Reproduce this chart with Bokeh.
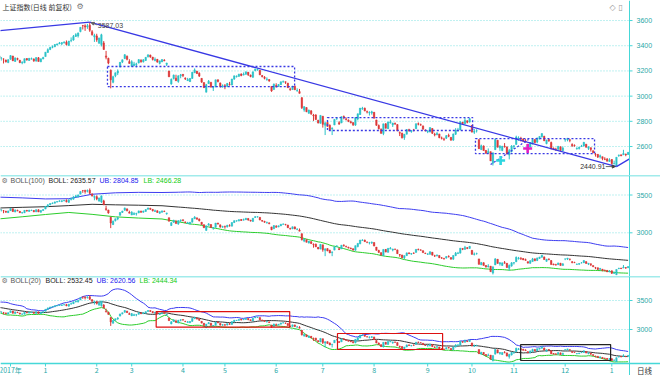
import numpy as np
import pandas as pd
from bokeh.plotting import figure
from bokeh.layouts import column
from bokeh.models import Range1d, Label, ColumnDataSource, Span, Arrow, NormalHead
from bokeh.core.properties import value
from bokeh.embed import file_html
from bokeh.resources import INLINE

# ---------------- data (Shanghai Composite, daily, Dec 2017 - Jan 2019) ----------------
first_idx = -21          # trading-day index of the first candle (Jan 2 2018 = 0)
# Nov 2017 closes: only used to warm up the BOLL(20)/BOLL(100) averages
nov17_closes = [3396, 3384, 3372, 3388, 3413, 3416, 3427, 3432, 3447, 3430, 3403,
                3399, 3382, 3392, 3411, 3430, 3352, 3353, 3322, 3333, 3337, 3317]

opens = [
    3315, 3310, 3300, 3295, 3286, 3266, 3293, 3318, 3275, 3298, 3284, 3265, 3264, 3298, 3283, 3294, 3295, 3278, 3304, 3272, 3295,
    3314, 3347, 3371, 3387, 3391, 3406, 3416, 3415, 3424, 3428, 3403, 3441, 3445, 3474, 3478, 3512, 3560, 3558, 3550, 3563, 3511, 3470,
    3478, 3419, 3409, 3422, 3319, 3300, 3206, 3110, 3161, 3183, 3231, 3270, 3298, 3316, 3274,
    3235, 3241, 3251, 3263, 3284, 3272, 3283, 3312, 3326, 3310, 3283, 3292, 3259, 3271, 3286, 3252, 3200, 3096, 3139, 3142, 3116, 3161,
    3173, 3144, 3123, 3115, 3140, 3185, 3199, 3182, 3141, 3108, 3031, 3099, 3109, 3065, 3072, 3130, 3105, 3075,
    3082, 3077, 3093, 3088, 3135, 3156, 3158, 3176, 3167, 3173, 3190, 3167, 3149, 3203, 3211, 3205, 3163, 3150, 3132, 3132, 3077, 3052,
    3084, 3076, 3091, 3113, 3114, 3103, 3057, 3052, 3078, 3041, 3036, 2987, 2890, 2909, 2864, 2883, 2850, 2850, 2808, 2785,
    2841, 2769, 2791, 2768, 2741, 2771, 2825, 2789, 2787, 2839, 2819, 2810, 2796, 2790, 2770, 2818, 2854, 2900, 2904, 2876, 2867, 2866,
    2872, 2811, 2767, 2736, 2703, 2780, 2742, 2788, 2771, 2784, 2774, 2712, 2705, 2671, 2698, 2734, 2719, 2732, 2741, 2781, 2773, 2762, 2731,
    2716, 2716, 2743, 2697, 2693, 2700, 2668, 2660, 2666, 2688, 2673, 2651, 2698, 2727, 2731, 2793, 2781, 2804, 2794,
    2768, 2713, 2724, 2655, 2575, 2604, 2568, 2550, 2559, 2468, 2575, 2650, 2588, 2568, 2604, 2597, 2532, 2560,
    2599, 2617, 2659, 2665, 2659, 2644, 2618, 2596, 2619, 2656, 2635, 2662, 2677, 2681, 2623, 2655, 2632, 2586, 2579, 2579, 2597, 2567,
    2654, 2652, 2653, 2617, 2608, 2581, 2585, 2601, 2604, 2619, 2586, 2591, 2567, 2539, 2538, 2518, 2519, 2501, 2500, 2481,
    2497, 2461, 2446, 2528, 2534, 2534, 2540, 2537,
]
highs = [
    3327, 3324, 3311, 3300, 3290, 3292, 3324, 3320, 3307, 3305, 3288, 3277, 3298, 3301, 3303, 3306, 3299, 3307, 3310, 3297, 3312,
    3349, 3379, 3392, 3402, 3412, 3417, 3430, 3427, 3435, 3442, 3438, 3466, 3485, 3499, 3505, 3547, 3565, 3570, 3573, 3587.03, 3524, 3495,
    3495, 3463, 3495, 3437, 3359, 3305, 3211, 3162, 3187, 3212, 3271, 3290, 3332, 3323, 3293,
    3285, 3272, 3265, 3292, 3293, 3293, 3309, 3333, 3329, 3311, 3307, 3295, 3280, 3293, 3293, 3264, 3200, 3140, 3171, 3170, 3164, 3176,
    3174, 3148, 3145, 3144, 3191, 3220, 3196, 3189, 3141, 3108, 3097, 3128, 3113, 3076, 3130, 3131, 3107, 3093,
    3096, 3104, 3113, 3137, 3162, 3164, 3177, 3180, 3188, 3194, 3191, 3171, 3193, 3219, 3219, 3206, 3168, 3159, 3149, 3134, 3079, 3100,
    3102, 3094, 3114, 3124, 3115, 3105, 3068, 3081, 3084, 3062, 3057, 2992, 2920, 2911, 2892, 2888, 2859, 2857, 2812, 2848,
    2841, 2796, 2793, 2776, 2752, 2816, 2832, 2801, 2838, 2846, 2831, 2815, 2805, 2791, 2830, 2860, 2905, 2915, 2909, 2885, 2880, 2884,
    2873, 2812, 2775, 2744, 2780, 2785, 2796, 2812, 2788, 2790, 2777, 2719, 2710, 2699, 2739, 2741, 2731, 2740, 2782, 2791, 2782, 2768, 2736,
    2730, 2751, 2745, 2709, 2715, 2700, 2679, 2670, 2691, 2702, 2673, 2702, 2746, 2748, 2798, 2795, 2827, 2807, 2826,
    2771, 2739, 2737, 2655, 2615, 2609, 2573, 2585, 2560, 2551, 2665, 2650, 2610, 2603, 2627, 2600, 2581, 2611,
    2610, 2686, 2681, 2677, 2666, 2659, 2621, 2636, 2668, 2656, 2670, 2681, 2704, 2685, 2653, 2660, 2639, 2592, 2590, 2603, 2602, 2600,
    2659, 2667, 2658, 2625, 2617, 2594, 2598, 2613, 2635, 2619, 2600, 2591, 2567, 2549, 2538, 2536, 2519, 2515, 2509, 2507,
    2500, 2488, 2515, 2535, 2535, 2574, 2543, 2555,
]
lows = [
    3303, 3298, 3282, 3259, 3267, 3262, 3289, 3278, 3273, 3284, 3262, 3253, 3262, 3282, 3280, 3290, 3272, 3274, 3275, 3270, 3293,
    3314, 3345, 3365, 3380, 3391, 3403, 3412, 3405, 3417, 3402, 3397, 3428, 3440, 3470, 3465, 3507, 3529, 3518, 3534, 3510, 3480, 3430,
    3431, 3417, 3394, 3368, 3292, 3253, 3062, 3102, 3150, 3167, 3229, 3262, 3294, 3284, 3259,
    3235, 3238, 3228, 3260, 3266, 3267, 3280, 3307, 3304, 3283, 3276, 3266, 3252, 3271, 3277, 3239, 3152, 3091, 3133, 3122, 3106, 3142,
    3151, 3128, 3122, 3114, 3139, 3185, 3175, 3152, 3107, 3065, 3031, 3099, 3071, 3041, 3072, 3109, 3068, 3067,
    3055, 3071, 3083, 3086, 3130, 3147, 3152, 3158, 3165, 3171, 3160, 3150, 3147, 3197, 3201, 3167, 3149, 3133, 3122, 3114, 3034, 3052,
    3068, 3075, 3090, 3107, 3097, 3066, 3042, 3049, 3049, 3036, 3021, 2898, 2876, 2873, 2860, 2851, 2803, 2812, 2783, 2782,
    2750, 2691, 2757, 2731, 2691, 2770, 2810, 2772, 2786, 2816, 2807, 2794, 2784, 2763, 2764, 2808, 2850, 2891, 2880, 2863, 2846, 2853,
    2823, 2764, 2736, 2700, 2690, 2744, 2740, 2782, 2755, 2771, 2723, 2683, 2664, 2653, 2697, 2718, 2709, 2720, 2740, 2768, 2765, 2735, 2720,
    2706, 2712, 2700, 2681, 2690, 2666, 2656, 2645, 2660, 2674, 2644, 2645, 2692, 2718, 2730, 2771, 2776, 2784, 2790,
    2710, 2700, 2711, 2580, 2574, 2567, 2542, 2541, 2485, 2449, 2575, 2593, 2566, 2563, 2591, 2537, 2498, 2553,
    2580, 2615, 2646, 2640, 2640, 2632, 2594, 2592, 2619, 2624, 2626, 2656, 2672, 2643, 2618, 2637, 2579, 2572, 2566, 2573, 2567, 2567,
    2638, 2641, 2634, 2597, 2599, 2576, 2576, 2596, 2601, 2593, 2573, 2560, 2549, 2520, 2509, 2505, 2491, 2492, 2483, 2480,
    2456, 2460, 2440.91, 2518, 2524, 2533, 2523, 2534,
]
closes = [
    3317, 3309, 3303, 3294, 3272, 3289, 3322, 3281, 3303, 3292, 3266, 3268, 3297, 3287, 3300, 3297, 3280, 3306, 3275, 3296, 3307,
    3349, 3369, 3386, 3392, 3409, 3414, 3422, 3425, 3429, 3410, 3437, 3444, 3474, 3488, 3501, 3546, 3559, 3548, 3558, 3523, 3488, 3481,
    3447, 3462, 3487, 3370, 3309, 3262, 3129, 3154, 3185, 3199, 3268, 3289, 3329, 3292, 3259,
    3273, 3255, 3256, 3290, 3272, 3288, 3308, 3327, 3311, 3291, 3292, 3270, 3280, 3290, 3281, 3263, 3153, 3134, 3167, 3122, 3161, 3169,
    3163, 3137, 3132, 3139, 3190, 3208, 3180, 3159, 3111, 3067, 3091, 3118, 3071, 3069, 3129, 3117, 3076, 3082,
    3081, 3101, 3091, 3136, 3161, 3159, 3174, 3163, 3174, 3193, 3170, 3155, 3193, 3214, 3214, 3169, 3154, 3141, 3136, 3120, 3041, 3095,
    3075, 3092, 3114, 3115, 3110, 3067, 3052, 3080, 3050, 3044, 3022, 2908, 2916, 2876, 2890, 2860, 2844, 2814, 2787, 2847,
    2776, 2787, 2760, 2734, 2747, 2815, 2827, 2778, 2837, 2832, 2815, 2798, 2788, 2773, 2830, 2860, 2905, 2904, 2883, 2874, 2870, 2876,
    2825, 2769, 2741, 2706, 2780, 2745, 2795, 2796, 2786, 2781, 2724, 2706, 2669, 2698, 2734, 2725, 2725, 2730, 2781, 2777, 2770, 2738, 2725,
    2721, 2751, 2705, 2692, 2703, 2670, 2665, 2657, 2686, 2682, 2652, 2700, 2731, 2730, 2797, 2782, 2807, 2792, 2821,
    2716, 2721, 2725, 2583, 2606, 2568, 2547, 2561, 2486, 2550, 2655, 2595, 2604, 2603, 2599, 2542, 2568, 2603,
    2606, 2676, 2665, 2659, 2641, 2636, 2599, 2631, 2655, 2632, 2668, 2680, 2703, 2646, 2652, 2646, 2580, 2576, 2575, 2602, 2568, 2588,
    2655, 2666, 2649, 2606, 2606, 2585, 2594, 2602, 2634, 2594, 2598, 2577, 2550, 2537, 2516, 2527, 2505, 2498, 2483, 2494,
    2465, 2464, 2515, 2533, 2526, 2545, 2535, 2554,
]

# month axis (trading-day index of each month's first session)
month_ticks = [-15, 0, 22, 37, 59, 77, 99, 119, 141, 164, 183, 201, 223, 243]
month_labels = ["2017年", "1", "2", "3", "4", "5", "6", "7", "8", "9", "10", "11", "12", "1"]
period_label = "日线"
main_ticks = [2600, 2800, 3000, 3200, 3400, 3600]
boll_ticks = [3000, 3500]

# BOLL(100) early part (before a full 100-day window exists)
b100_early_idx = [-21, -10, 0, 10, 20, 30, 40, 50]
b100_early_ub = [3473, 3462, 3448, 3451, 3510, 3529, 3535, 3533]
b100_early_mid = [3327, 3337, 3345, 3360, 3377, 3370, 3365, 3358]
b100_early_lb = [3181, 3212, 3242, 3269, 3244, 3211, 3195, 3183]

# header readouts
title_text = "上证指数(日线 前复权)"
boll100_head = ["BOLL(100)", "BOLL: 2635.57", "UB: 2804.85", "LB: 2466.28"]
boll20_head = ["BOLL(20)", "BOLL: 2532.45", "UB: 2620.56", "LB: 2444.34"]

# drawn annotations (trading-day index, price)
trend_left = (-21, 3518)
rise_end = (250.6, 2502)
box_left = [26.6, 121.0, 184.5]
box_right = [106.9, 183.3, 235.6]
box_top = [3235, 2830, 2663]
box_bottom = [3076, 2727, 2544]
dot_idx = [191, 207.3]
dot_val = [2457, 2656]
cross_idx = [195.3, 206.9]
cross_val = [2489, 2584]
cross_col = ["#2fd6e0", "#e21fc4"]
b20_box_left = [47.5, 125.3, 203.9]
b20_box_right = [104.8, 170.4, 242.5]
b20_box_top = [3310, 2931, 2741]
b20_box_bottom = [3040, 2655, 2466]
b20_box_col = ["#dd1111", "#dd1111", "#222222"]

assert len(opens) == len(highs) == len(lows) == len(closes)

# ---------------- styling / geometry ----------------
CYAN = "#45d8d8"
GRID = "#7fe3e3"
TEAL = "#1fa8a8"
UP = "#2cc3c8"
DOWN = "#dc3838"
BLUE = "#3838e4"
W = 660
PW = 629                     # width of the price area; the rest holds the scale
X0, X1 = -19.3, 250.6        # index range covered by the price area
XEND = X0 + W * (X1 - X0) / PW
xr = Range1d(X0, XEND)
IDX_PER_PX = (X1 - X0) / PW

xs = list(range(first_idx, first_idx + len(closes)))
cols = [UP if c >= o else DOWN for o, c in zip(opens, closes)]
src = ColumnDataSource(dict(
    x=xs, h=highs, l=lows,
    top=[max(o, c) for o, c in zip(opens, closes)],
    bot=[min(o, c) for o, c in zip(opens, closes)],
    col=cols))

all_closes = pd.Series(nov17_closes + closes, dtype=float)
all_idx = np.arange(first_idx - len(nov17_closes), first_idx + len(closes))
m20 = all_closes.rolling(20).mean()
s20 = all_closes.rolling(20).std(ddof=1)
ok20 = m20.notna().values
m100 = all_closes.rolling(100).mean()
s100 = all_closes.rolling(100).std(ddof=1)
ok100 = m100.notna().values

b20_x = all_idx[ok20]
b20_mid = m20.values[ok20]
b20_ub = b20_mid + 2 * s20.values[ok20]
b20_lb = b20_mid - 2 * s20.values[ok20]

b100_x = list(b100_early_idx) + list(all_idx[ok100])
mid_c = m100.values[ok100]
b100_mid = list(b100_early_mid) + list(mid_c)
b100_ub = list(b100_early_ub) + list(mid_c + 2 * s100.values[ok100])
b100_lb = list(b100_early_lb) + list(mid_c - 2 * s100.values[ok100])


def lx(ox):
    return X0 + ox * IDX_PER_PX


def ly(yr, ext, oy):
    t, b = ext
    return yr.end - (oy - t) / (b - t) * (yr.end - yr.start)


def make_fig(h, yr, ticks, top_line=False):
    p = figure(width=W, height=h, x_range=xr, y_range=yr, output_backend="svg",
               toolbar_location=None, x_axis_location=None, y_axis_location=None,
               min_border=0)
    p.outline_line_color = None
    p.background_fill_color = "white"
    p.border_fill_color = "white"
    p.grid.visible = False
    # dotted horizontal grid inside the price area
    p.segment(x0=[X0] * len(ticks), x1=[X1] * len(ticks), y0=ticks, y1=ticks,
              line_color=GRID, line_dash="1 2", line_width=1)
    # price scale on the right
    p.add_layout(Span(location=X1, dimension="height", line_color=CYAN, line_width=1))
    p.segment(x0=[X1] * len(ticks), x1=[X1 + 3 * IDX_PER_PX] * len(ticks), y0=ticks, y1=ticks,
              line_color=CYAN, line_width=1)
    p.text(x=[lx(636)] * len(ticks), y=ticks, text=[str(t) for t in ticks],
           text_font=value("Liberation Sans"), text_font_size="7px", text_color=TEAL,
           text_align="left", text_baseline="middle")
    if top_line:
        p.add_layout(Span(location=yr.end, dimension="width", line_color=CYAN, line_width=1.5))
    return p


def draw_candles(p):
    p.segment(x0="x", y0="l", x1="x", y1="h", line_color="col", line_width=1, source=src)
    p.vbar(x="x", width=0.62, top="top", bottom="bot", fill_color="col",
           line_color="col", line_width=0.5, source=src)


def add_text(p, yr, ext, ox, oy, txt, color, size="7px", font="Liberation Sans", align="left"):
    p.add_layout(Label(x=lx(ox), y=ly(yr, ext, oy), text=txt, text_color=color,
                       text_font_size=size, text_font=font, text_align=align,
                       text_baseline="middle"))


# ---------------- main price panel ----------------
E1 = (0, 175)
yr1 = Range1d(2370, 3759)
p1 = make_fig(175, yr1, main_ticks)
draw_candles(p1)

pk = int(np.argmax(highs))
lo = int(np.argmin(lows))
peak_x, peak_v = xs[pk], highs[pk]
low_x, low_v = xs[lo], lows[lo]
p1.line([trend_left[0], peak_x], [trend_left[1], peak_v], line_color=BLUE, line_width=1.3)
p1.line([peak_x, low_x], [peak_v, low_v], line_color=BLUE, line_width=1.3)
p1.line([low_x, rise_end[0]], [low_v, rise_end[1]], line_color=BLUE, line_width=1.3)
p1.quad(left=box_left, right=box_right, top=box_top, bottom=box_bottom, fill_alpha=0,
        line_color=BLUE, line_dash="2 2", line_width=1.3)
p1.line(dot_idx, dot_val, line_color=BLUE, line_dash="2 2", line_width=1.2)
p1.scatter(cross_idx, cross_val, marker="cross", size=9, line_width=2.6, line_color=cross_col)

p1.add_layout(Label(x=peak_x, y=peak_v, text=f"{peak_v:.2f}", x_offset=8, y_offset=-3,
                    text_font="Liberation Sans", text_font_size="7px", text_color="#444444",
                    text_baseline="middle"))
p1.add_layout(Arrow(end=NormalHead(size=3, line_color="#666666", fill_color="#666666"),
                    x_start=peak_x + 3.2, y_start=peak_v - 22, x_end=peak_x + 0.6, y_end=peak_v - 4,
                    line_color="#666666", line_width=0.8))
p1.add_layout(Label(x=low_x, y=low_v, text=f"{low_v:.2f}", x_offset=-11,
                    text_font="Liberation Sans", text_font_size="7px", text_color="#333333",
                    text_align="right", text_baseline="middle"))
p1.add_layout(Arrow(end=NormalHead(size=3, line_color="#444444", fill_color="#444444"),
                    x_start=low_x - 4.6, y_start=low_v, x_end=low_x - 0.5, y_end=low_v,
                    line_color="#444444", line_width=0.8))

add_text(p1, yr1, E1, 2, 6, title_text, "#333333", size="7px", font="Noto Sans CJK SC")
add_text(p1, yr1, E1, 76, 6, "⚙", "#777777", size="8px", font="DejaVu Sans")
add_text(p1, yr1, E1, 609, 7, "◇", "#999999", size="8px", font="DejaVu Sans")
add_text(p1, yr1, E1, 618, 7, "▯", "#999999", size="8px", font="DejaVu Sans")

# ---------------- BOLL(100) panel ----------------
E2 = (175, 276)
yr2 = Range1d(2422, 3758)
p2 = make_fig(101, yr2, boll_ticks, top_line=True)
p2.line(b100_x, b100_ub, line_color="#3c3cf0", line_width=1)
p2.line(b100_x, b100_mid, line_color="#333333", line_width=1)
p2.line(b100_x, b100_lb, line_color="#2bcc2b", line_width=1)
draw_candles(p2)
add_text(p2, yr2, E2, 1, 180, "⚙", "#777777", size="7px", font="DejaVu Sans")
for ox, txt, c in zip([10, 48, 99, 143], boll100_head, ["#555555", "#222222", "#2222ee", "#11cc11"]):
    add_text(p2, yr2, E2, ox, 180, txt, c)

# ---------------- BOLL(20) panel + date scale ----------------
E3 = (276, 375)
yr3 = Range1d(2207, 3914)
p3 = make_fig(99, yr3, boll_ticks, top_line=True)
axis_y = ly(yr3, E3, 363)
p3.add_layout(Span(location=axis_y, dimension="width", line_color=CYAN, line_width=1.5))
p3.line(b20_x, b20_ub, line_color="#3c3cf0", line_width=1)
p3.line(b20_x, b20_mid, line_color="#333333", line_width=1)
p3.line(b20_x, b20_lb, line_color="#2bcc2b", line_width=1)
draw_candles(p3)
p3.quad(left=b20_box_left, right=b20_box_right, top=b20_box_top, bottom=b20_box_bottom,
        fill_alpha=0, line_color=b20_box_col, line_width=1.2)
add_text(p3, yr3, E3, 1, 280, "⚙", "#777777", size="7px", font="DejaVu Sans")
for ox, txt, c in zip([10, 45, 96, 139], boll20_head, ["#555555", "#222222", "#2222ee", "#11cc11"]):
    add_text(p3, yr3, E3, ox, 280, txt, c)

# date scale
p3.segment(x0=month_ticks, x1=month_ticks, y0=[axis_y] * len(month_ticks),
           y1=[ly(yr3, E3, 366)] * len(month_ticks), line_color=CYAN, line_width=1)
p3.text(x=month_ticks, y=[ly(yr3, E3, 369.5)] * len(month_ticks), text=month_labels,
        text_font=value("Noto Sans CJK SC"), text_font_size="7px", text_color=TEAL,
        text_align="center", text_baseline="middle")
p3.text(x=[lx(644)], y=[ly(yr3, E3, 369.5)], text=[period_label],
        text_font=value("Noto Sans CJK SC"), text_font_size="7.5px", text_color="#333333",
        text_align="center", text_baseline="middle")

layout = column(p1, p2, p3, spacing=0)
open("out.html", "w").write(file_html(layout, INLINE))
